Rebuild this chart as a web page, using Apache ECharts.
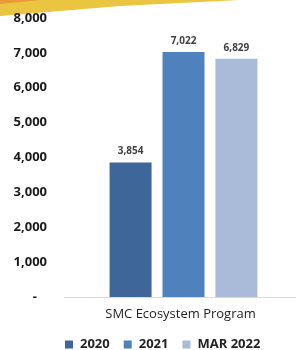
<!DOCTYPE html>
<html>
<head>
<meta charset="utf-8">
<script src="https://cdn.jsdelivr.net/npm/echarts@6/dist/echarts.min.js"></script>
<style>
  html, body { margin: 0; padding: 0; background: #fff; }
  #chart { width: 296px; height: 350px; }
</style>
</head>
<body>
<div id="chart"></div>
<script>
// data
const categories = ['SMC Ecosystem Program']
const seriesNames = ['2020', '2021', 'MAR 2022']
const values2020 = [3854]
const values2021 = [7022]
const valuesMar2022 = [6829]
const colors = ['#3f6699', '#4f81bd', '#a9bbd9']

const chart = echarts.init(document.getElementById('chart'))
const font = 'Open Sans, Noto Sans, sans-serif'

const fmt = v => v.toLocaleString('en-US')

const mkSeries = (name, data, color) => ({
  name: name,
  type: 'bar',
  data: data,
  barWidth: 42,
  barGap: '26%',
  itemStyle: { color: color },
  label: {
    show: true,
    position: 'top',
    distance: 6,
    color: '#404040',
    fontSize: 10,
    fontWeight: 'bold',
    fontFamily: font,
    formatter: p => fmt(p.value)
  }
})

chart.setOption({
  animation: false,
  grid: { left: 71, right: 0, top: 18, bottom: 53 },
  // yellow swoosh at the top
  graphic: [{
    type: 'polygon',
    shape: { points: [[0, 0], [240, 0], [120, 6], [0, 16]] },
    style: { fill: '#eac53f' }
  }, {
    type: 'polygon',
    shape: { points: [[0, 0], [40, 0], [0, 4]] },
    style: { fill: '#e9993a' }
  }, {
    // axis line continues to the left of the grid as in the original
    type: 'line',
    shape: { x1: 64, y1: 297.5, x2: 72, y2: 297.5 },
    style: { stroke: '#d9d9d9', lineWidth: 1 }
  }],
  legend: {
    top: 333,
    left: 60,
    itemWidth: 8,
    itemHeight: 8,
    itemGap: 14,
    icon: 'rect',
    textStyle: { fontSize: 13, fontWeight: 'bold', color: '#222', fontFamily: font, padding: [0, 0, 0, 2] },
    data: seriesNames
  },
  xAxis: {
    type: 'category',
    data: categories,
    axisLine: { lineStyle: { color: '#d9d9d9' } },
    axisTick: { show: false },
    axisLabel: { margin: 11, fontSize: 13, color: '#222', fontFamily: font, padding: [0, 6, 0, 0] }
  },
  yAxis: {
    type: 'value',
    min: 0,
    max: 8000,
    interval: 1000,
    splitLine: { show: false },
    axisLabel: {
      margin: 24,
      fontSize: 13,
      fontWeight: 'bold',
      color: '#1a1a1a',
      fontFamily: font,
      formatter: v => v === 0 ? '-   ' : fmt(v)
    }
  },
  series: [
    mkSeries(seriesNames[0], values2020, colors[0]),
    mkSeries(seriesNames[1], values2021, colors[1]),
    mkSeries(seriesNames[2], valuesMar2022, colors[2])
  ]
})
</script>
</body>
</html>
